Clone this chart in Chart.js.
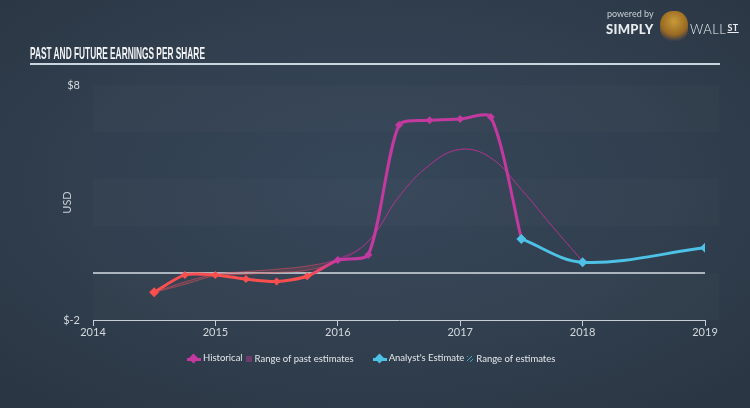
<!DOCTYPE html>
<html>
<head>
<meta charset="utf-8">
<script src="https://cdn.jsdelivr.net/npm/chart.js@4.4.1/dist/chart.umd.min.js"></script>
<style>
  html, body { margin:0; padding:0; }
  body { width:750px; height:408px; overflow:hidden; position:relative;
    background: radial-gradient(ellipse 70% 70% at 50% 45%, #36475a 0%, #313f4f 55%, #2a3643 100%);
    font-family: Lato, "Open Sans", sans-serif; }
  #wrap { position:absolute; left:0; top:0; width:750px; height:408px; }
  #title { position:absolute; left:30px; top:43px; color:#f2f4f6; white-space:nowrap;
    font-family:"Liberation Sans", Arial, sans-serif; font-weight:bold; font-size:14px; line-height:16px;
    transform:scale(0.595, 1.2); transform-origin:left top; }
  #rule { position:absolute; left:30px; top:63px; width:690px; height:2px; background:#c9d6df; }
  #logo { position:absolute; left:606px; top:8px; color:#e8ecef; }
  #logo .pb { font-size:9px; color:#c9d0d6; position:absolute; left:1px; top:0px; white-space:nowrap; }
  #logo .simply { position:absolute; left:0; top:13px; font-weight:900; font-size:13px; letter-spacing:0.3px; }
  #logo .wall { position:absolute; left:84px; top:13px; font-size:13px; font-weight:300; letter-spacing:0.5px; white-space:nowrap; }
  #logo .wall span { font-size:9px; font-weight:bold; text-decoration:underline; vertical-align:3px; margin-left:1px; }
  #logo .bull { position:absolute; left:54px; top:3px; width:28px; height:30px; border-radius:45% 45% 40% 40%;
    background: radial-gradient(circle at 50% 35%, #c89a3a 0%, #9a6a22 55%, #3a3f4a 80%); }
  #legend { position:absolute; top:352px; left:-4px; width:750px; text-align:center; font-size:9.5px; color:#e3e7ea; white-space:nowrap; }
  #legend .it { display:inline-block; vertical-align:middle; margin:0 1px; }
  .dia { display:inline-block; position:relative; width:14px; height:12px; vertical-align:middle; }
  .dia::before { content:""; position:absolute; left:0; top:5px; width:14px; height:3px; }
  .dia::after { content:""; position:absolute; left:3px; top:2px; width:7px; height:7px; transform:rotate(45deg); }
  .dia.mag::before, .dia.mag::after { background:#c3399f; }
  .dia.cy::before, .dia.cy::after { background:#4ec1e6; }
  .sq { display:inline-block; width:6px; height:6px; vertical-align:middle; margin:0 2px 0 2px; }
  .sq.mag { background:rgba(150,60,130,0.6); }
  .sq.cy { background:repeating-linear-gradient(135deg, rgba(78,193,230,0.8) 0 1px, transparent 1px 3px); }
</style>
</head>
<body>
<div id="wrap"><canvas id="c" width="750" height="408"></canvas></div>
<div id="title">PAST AND FUTURE EARNINGS PER SHARE</div>
<div id="rule"></div>
<div id="logo">
  <div class="pb">powered by</div>
  <div class="simply">SIMPLY</div>
  <div class="bull"></div>
  <div class="wall">WALL<span>ST</span></div>
</div>
<div id="legend">
  <span class="it"><span class="dia mag"></span> Historical</span><span class="sq mag"></span><span class="it">Range of past estimates</span>
  <span style="display:inline-block;width:12px"></span>
  <span class="it"><span class="dia cy"></span> Analyst's Estimate</span><span class="sq cy"></span><span class="it">Range of estimates</span>
</div>
<script>
// ---- data ----
const yearTicks = [2014, 2015, 2016, 2017, 2018, 2019];
const yTickValues = [-2, 8];

const historicalDates = [2014.5, 2014.75, 2015.0, 2015.25, 2015.5, 2015.75, 2016.0, 2016.25, 2016.5, 2016.75, 2017.0, 2017.25, 2017.5];
const historicalEps   = [-0.82, -0.08, -0.08, -0.26, -0.36, -0.14, 0.55, 0.78, 6.3, 6.5, 6.55, 6.64, 1.45];

const estimateDates = [2017.5, 2018.0, 2019.0];
const estimateEps   = [1.45, 0.46, 1.07];

const pastRangeDates = [2014.5, 2014.75, 2015.0, 2015.25, 2015.5, 2015.75, 2016.0, 2016.25, 2016.5, 2016.75, 2017.0, 2017.25, 2017.5, 2017.75, 2018.0];
const pastRangeLow   = [-0.82, -0.48, -0.12, -0.05, 0.02, 0.12, 0.5, 1.35, 3.25, 4.6, 5.26, 4.9, 3.55, 2.0, 0.5];
const pastRangeHigh  = [-0.82, -0.38, -0.06, 0.06, 0.16, 0.3, 0.6, 1.35, 3.25, 4.6, 5.26, 4.9, 3.55, 2.0, 0.5];

// ---- colors ----
const RED = '#fb4f4f';
const MAG = '#c3399f';
const CYAN = '#4ec1e6';
const SWITCH_FROM = 2015.75, SWITCH_TO = 2016.0;

const toXY = (xs, ys) => xs.map((x, i) => ({x, y: ys[i]}));

function histGradient(c, alphaRed, alphaMag) {
  const chart = c.chart;
  if (!chart.chartArea) return MAG;
  const xs = chart.scales.x;
  const g = chart.ctx.createLinearGradient(xs.getPixelForValue(SWITCH_FROM), 0, xs.getPixelForValue(SWITCH_TO), 0);
  g.addColorStop(0, alphaRed);
  g.addColorStop(1, alphaMag);
  return g;
}

const bandsPlugin = {
  id: 'bands',
  beforeDatasetsDraw(chart) {
    const {ctx, chartArea: a, scales: {y}} = chart;
    ctx.save();
    for (let v = 8; v > -2; v -= 4) {
      const t = y.getPixelForValue(v), b = y.getPixelForValue(v - 2);
      ctx.fillStyle = 'rgba(255,255,255,0.014)';
      ctx.fillRect(a.left, t, a.right - a.left + 14, b - t);
    }
    const z = y.getPixelForValue(0);
    ctx.strokeStyle = '#d5dde3';
    ctx.lineWidth = 1.5;
    ctx.beginPath();
    ctx.moveTo(a.left, z);
    ctx.lineTo(a.right, z);
    ctx.stroke();
    ctx.restore();
  }
};

new Chart(document.getElementById('c'), {
  type: 'line',
  data: {
    datasets: [
      {
        label: 'Range of past estimates (low)',
        data: toXY(pastRangeDates, pastRangeLow),
        borderColor: c => histGradient(c, 'rgba(230,80,90,0.55)', 'rgba(170,50,140,0.7)'),
        borderWidth: 1,
        pointRadius: 0,
        tension: 0.4,
        fill: false,
        order: 5
      },
      {
        label: 'Range of past estimates (high)',
        data: toXY(pastRangeDates, pastRangeHigh),
        borderColor: c => histGradient(c, 'rgba(230,80,90,0.55)', 'rgba(170,50,140,0.7)'),
        backgroundColor: c => histGradient(c, 'rgba(230,80,90,0.18)', 'rgba(170,50,140,0.22)'),
        borderWidth: 1,
        pointRadius: 0,
        tension: 0.4,
        fill: '-1',
        order: 4
      },
      {
        label: 'Historical',
        data: toXY(historicalDates, historicalEps),
        borderColor: c => histGradient(c, RED, MAG),
        borderWidth: 3,
        pointStyle: 'rectRot',
        pointRadius: (c) => c.dataIndex === historicalDates.length - 1 ? 0 : (c.dataIndex === 0 ? 5 : 4),
        pointBackgroundColor: (c) => (historicalDates[c.dataIndex] <= SWITCH_FROM ? RED : MAG),
        pointBorderColor: (c) => (historicalDates[c.dataIndex] <= SWITCH_FROM ? RED : MAG),
        pointBorderWidth: 0,
        tension: 0.25,
        fill: false,
        order: 2
      },
      {
        label: "Analyst's Estimate",
        data: toXY(estimateDates, estimateEps),
        borderColor: CYAN,
        borderWidth: 3,
        pointStyle: 'rectRot',
        pointRadius: 5,
        pointBackgroundColor: CYAN,
        pointBorderColor: CYAN,
        pointBorderWidth: 0,
        tension: 0.35,
        fill: false,
        order: 1
      }
    ]
  },
  options: {
    responsive: false,
    animation: false,
    devicePixelRatio: 1,
    layout: { padding: { left: 55, right: 45, top: 85, bottom: 66 } },
    plugins: { legend: { display: false }, tooltip: { enabled: false } },
    scales: {
      x: {
        type: 'linear',
        min: 2014, max: 2019,
        afterBuildTicks: s => { s.ticks = yearTicks.map(v => ({value: v})); },
        afterFit: s => { s.height = 22; },
        grid: { drawOnChartArea: false, drawTicks: true, tickLength: 6, color: '#c5ced6', lineWidth: 1 },
        border: { display: true, color: '#c5ced6', width: 1 },
        ticks: { color: '#d3d9de', font: { size: 11, family: 'Lato, "Open Sans", sans-serif' }, padding: 0,
                 callback: v => String(v), maxRotation: 0 }
      },
      y: {
        min: -2, max: 8,
        afterBuildTicks: s => { s.ticks = yTickValues.map(v => ({value: v})); },
        afterFit: s => { s.width = 38; },
        grid: { display: false },
        border: { display: false },
        ticks: { color: '#d3d9de', font: { size: 11, family: 'Lato, "Open Sans", sans-serif' }, padding: 5,
                 callback: v => '$' + v },
        title: { display: true, text: 'USD', color: '#c5ced6', font: { size: 11, family: 'Lato, "Open Sans", sans-serif' }, padding: { top: 6, bottom: 0 } }
      }
    }
  },
  plugins: [bandsPlugin]
});
</script>
</body>
</html>
